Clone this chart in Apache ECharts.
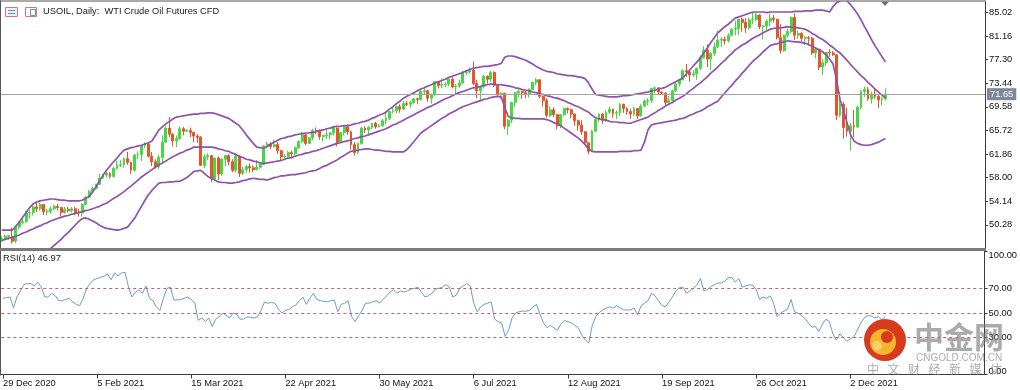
<!DOCTYPE html>
<html><head><meta charset="utf-8">
<script src="https://cdn.jsdelivr.net/npm/echarts@6/dist/echarts.min.js"></script>
<style>html,body{margin:0;padding:0;background:#fff}#c{width:1020px;height:390px}</style>
</head><body><div id="c"></div><script>
const titleText = 'USOIL, Daily:  WTI Crude Oil Futures CFD';
const rsiTitle = 'RSI(14) 46.97';
const dateLabels = ['29 Dec 2020','5 Feb 2021','15 Mar 2021','22 Apr 2021','30 May 2021','6 Jul 2021','12 Aug 2021','19 Sep 2021','26 Oct 2021','2 Dec 2021'];
const labelEvery = 27;
const priceTicks = [50.28,54.14,58.00,61.86,65.72,69.58,73.44,77.30,81.16,85.02];
const rsiTicks = [0,30,50,70,100];
const rsiLevels = [30,50,70];
const currentPrice = 71.65;
const futureSlots = 28;

// [open, close, low, high]
const ohlc = [
[47.6,48.0,47.5,48.4],[48.0,48.4,47.9,48.6],[48.4,48.5,47.8,48.6],[48.4,47.6,47.2,49.8],[47.6,49.9,47.3,50.2],
[49.9,50.6,49.5,50.9],[50.6,50.8,50.3,51.3],[50.8,52.2,50.6,52.6],[52.2,52.3,51.3,52.7],[52.3,53.2,51.8,53.4],
[53.2,52.9,52.4,53.9],[52.9,53.6,52.6,53.9],[53.6,52.4,51.9,53.6],[52.4,52.5,51.8,52.9],[52.5,52.9,52.1,53.3],
[52.9,53.3,52.7,53.6],[53.3,53.1,52.6,53.7],[53.1,52.3,51.6,53.2],[52.3,52.8,52.1,53.2],[52.8,52.6,52.3,53.2],
[52.6,52.9,52.3,53.2],[52.9,52.3,51.9,53.2],[52.3,52.2,51.6,52.9],[52.2,53.6,51.6,53.8],[53.6,54.8,53.5,55.0],
[54.8,55.7,54.6,56.0],[55.7,56.2,55.3,56.5],[56.2,56.9,56.1,57.0],[56.9,57.9,56.8,58.6],[57.9,58.4,57.8,58.6],
[58.4,58.7,58.0,58.9],[58.7,58.2,57.9,58.9],[58.2,59.5,58.0,59.8],[59.5,60.0,59.3,60.8],[60.0,60.1,59.7,60.9],
[60.1,61.1,59.6,61.3],[61.1,60.5,60.1,62.2],[60.5,59.2,58.6,60.6],[59.2,61.7,59.0,61.9],[61.7,61.8,61.0,62.3],
[61.8,63.2,60.7,63.3],[63.2,63.5,62.8,63.8],[63.5,61.5,61.3,63.6],[61.5,60.6,59.9,62.2],[60.6,59.8,59.5,61.0],
[59.8,61.3,59.4,61.7],[61.3,63.8,60.3,64.9],[63.8,66.1,63.7,66.4],[66.1,65.1,64.6,67.9],[65.1,64.0,63.1,65.3],
[64.0,64.4,63.0,64.9],[64.4,66.0,64.2,66.4],[66.0,65.6,64.9,66.3],[65.6,65.7,65.5,65.9],[65.7,65.4,64.6,66.2],
[65.4,64.8,63.8,65.5],[64.8,64.6,63.7,65.1],[64.6,60.0,59.9,64.8],[60.0,61.4,59.5,61.8],[61.4,61.6,60.9,62.0],
[61.6,57.8,57.3,61.7],[57.8,61.2,57.5,61.3],[61.2,58.6,57.6,61.5],[58.6,61.0,58.3,61.2],[61.0,61.6,59.9,61.7],
[61.6,60.6,60.0,61.8],[60.6,59.2,58.9,61.0],[59.2,61.5,58.9,61.8],[61.5,58.7,58.1,61.6],[58.7,59.3,58.4,59.8],
[59.3,59.8,58.8,60.1],[59.8,59.6,58.8,60.3],[59.6,59.3,58.9,60.0],[59.3,59.7,59.2,60.9],[59.7,60.2,59.4,60.6],
[60.2,63.2,60.0,63.3],[63.2,63.5,62.8,63.9],[63.5,63.1,62.7,63.8],[63.1,63.4,62.9,64.2],[63.4,62.4,61.9,63.8],
[62.4,61.4,60.7,62.5],[61.4,61.5,60.9,61.8],[61.5,62.1,61.2,62.4],[62.1,61.9,61.1,62.4],[61.9,62.9,61.6,63.1],
[62.9,63.9,62.7,64.1],[63.9,65.0,63.7,65.5],[65.0,63.6,63.3,65.2],[63.6,64.5,63.5,64.7],[64.5,65.7,64.1,66.0],
[65.7,65.6,65.1,66.2],[65.6,64.7,64.2,65.9],[64.7,64.9,63.9,65.0],[64.9,65.0,64.3,66.0],[65.0,65.3,64.3,65.5],
[65.3,66.1,64.9,66.4],[66.1,63.8,63.1,66.2],[63.8,65.4,63.7,65.5],[65.4,66.3,64.9,66.5],[66.3,65.5,65.0,66.7],
[65.5,63.4,62.6,65.7],[63.4,62.1,61.6,63.8],[62.1,63.6,61.8,63.7],[63.6,66.1,63.4,66.3],[66.1,65.8,65.3,66.4],
[65.8,66.2,65.0,66.4],[66.2,66.9,65.9,67.0],[66.9,66.3,66.0,67.1],[66.3,66.5,66.2,66.8],[66.5,67.3,66.3,67.6],
[67.3,67.7,66.7,68.9],[67.7,68.8,67.4,68.9],[68.8,68.9,68.5,69.4],[68.9,69.6,68.5,69.8],[69.6,69.2,68.6,70.0],
[69.2,70.1,69.1,70.6],[70.1,70.0,69.7,70.6],[70.0,70.3,69.4,70.6],[70.3,70.9,70.1,71.0],[70.9,70.8,70.0,71.1],
[70.8,72.1,70.6,72.3],[72.1,72.2,71.5,72.9],[72.2,71.0,70.4,72.4],[71.0,71.6,70.1,71.8],[71.6,73.7,71.3,73.8],
[73.7,73.1,72.6,73.8],[73.1,73.2,72.6,74.2],[73.2,73.3,72.8,73.6],[73.3,74.1,72.9,74.2],[74.1,72.9,72.6,74.4],
[72.9,73.0,71.8,73.3],[73.0,73.5,72.7,74.0],[73.5,75.2,73.3,75.5],[75.2,75.3,74.8,75.6],[75.3,75.6,75.0,76.0],
[75.6,73.4,73.1,77.0],[73.4,72.2,71.0,74.0],[72.2,72.9,70.8,73.0],[72.9,74.6,72.6,74.8],[74.6,74.1,73.4,74.7],
[74.1,75.2,73.6,75.5],[75.2,73.1,72.8,75.4],[73.1,71.7,71.2,73.3],[71.7,71.8,70.9,72.0],[71.8,66.4,65.9,71.9],
[66.4,67.4,65.0,67.6],[67.4,70.3,66.9,70.4],[70.3,71.9,69.6,72.0],[71.9,72.1,71.1,72.4],[72.1,71.9,70.9,72.2],
[71.9,71.7,71.0,72.3],[71.7,72.4,71.1,72.6],[72.4,73.6,72.3,73.7],[73.6,74.0,73.1,74.3],[74.0,71.3,71.0,74.1],
[71.3,70.6,69.6,71.4],[70.6,68.2,67.8,71.0],[68.2,69.1,67.9,69.7],[69.1,68.3,67.9,69.5],[68.3,66.5,65.9,68.4],
[66.5,68.3,66.1,68.4],[68.3,69.3,68.0,69.4],[69.3,69.1,68.5,69.5],[69.1,68.4,67.7,69.3],[68.4,67.3,66.5,68.5],
[67.3,66.6,65.7,67.5],[66.6,65.5,65.0,67.4],[65.5,63.7,63.4,65.6],[63.7,62.3,61.8,63.8],[62.3,65.6,62.2,65.8],
[65.6,67.5,65.4,67.7],[67.5,68.4,67.1,68.5],[68.4,67.4,66.8,68.6],[67.4,68.7,67.1,69.0],[68.7,69.2,68.4,69.6],
[69.2,68.5,67.8,69.3],[68.5,68.6,67.6,69.0],[68.6,70.0,68.1,70.2],[70.0,69.3,68.6,70.1],[69.3,68.8,68.3,69.5],
[68.8,68.4,67.6,69.2],[68.4,69.3,68.1,69.6],[69.3,68.1,67.6,69.4],[68.1,69.7,68.0,70.0],[69.7,70.5,69.5,70.8],
[70.5,70.6,69.8,71.0],[70.6,72.6,70.2,72.7],[72.6,72.7,71.8,72.9],[72.7,72.0,71.5,72.8],[72.0,71.8,71.6,72.1],
[71.8,70.3,69.8,72.0],[70.3,70.6,70.1,71.4],[70.6,72.2,70.5,72.4],[72.2,73.3,72.0,73.6],[73.3,74.0,72.9,74.1],
[74.0,75.5,73.9,75.7],[75.5,75.3,74.5,76.6],[75.3,74.8,73.7,75.4],[74.8,75.0,74.5,75.6],[75.0,75.9,74.0,76.0],
[75.9,77.6,75.6,78.0],[77.6,78.9,77.4,79.5],[78.9,77.4,76.1,79.8],[77.4,78.3,75.6,78.6],[78.3,79.4,77.9,80.1],
[79.4,80.5,79.2,82.1],[80.5,80.6,79.4,81.0],[80.6,80.4,79.8,81.1],[80.4,81.3,80.1,81.6],[81.3,82.3,81.2,82.5],
[82.3,82.4,81.3,83.7],[82.4,83.9,81.3,84.0],[83.9,83.4,81.9,84.2],[83.4,82.5,81.7,84.1],[82.5,83.8,82.2,84.2],
[83.8,83.9,83.1,85.0],[83.9,84.6,83.6,85.0],[84.6,82.7,82.3,84.7],[82.7,82.8,80.6,83.0],[82.8,83.6,82.1,84.0],
[83.6,84.1,82.8,84.9],[84.1,83.9,83.4,84.6],[83.9,80.9,80.6,84.0],[80.9,78.8,78.3,83.1],[78.8,81.3,78.6,81.4],
[81.3,81.9,80.9,82.4],[81.9,84.2,81.6,84.4],[84.2,81.3,80.5,84.9],[81.3,81.6,80.7,82.1],[81.6,80.8,80.2,81.8],
[80.8,80.9,79.7,81.2],[80.9,80.8,79.6,81.2],[80.8,78.4,78.1,81.0],[78.4,79.0,77.5,79.1],[79.0,76.1,75.6,79.1],
[76.1,76.8,74.8,77.4],[76.8,78.5,76.3,78.6],[78.5,78.4,77.8,79.0],[78.4,78.1,77.9,78.7],[78.1,68.2,67.4,78.2],
[68.2,70.0,67.9,72.0],[70.0,66.2,64.4,70.4],[66.2,65.6,64.7,69.4],[65.6,66.5,62.4,67.0],[66.5,66.3,64.6,69.1],
[66.3,69.5,66.1,69.8],[69.5,72.1,69.2,72.3],[72.1,72.4,71.2,72.9],[72.4,70.9,70.6,72.8],[70.9,71.7,70.1,72.1],
[71.7,71.3,70.9,72.5],[71.3,70.7,69.4,71.5],[70.7,70.9,69.8,71.2],[70.9,71.65,70.6,72.6]
];

const bbUpper = [
49.4,49.4,49.4,49.4,50.0,50.7,51.5,52.3,53.1,53.7,
54.0,54.2,54.3,54.4,54.5,54.5,54.4,54.3,54.3,54.2,
54.2,54.2,54.2,54.3,54.6,54.9,55.6,56.5,57.5,58.4,
59.2,59.9,60.6,61.2,61.9,62.5,62.7,62.9,63.0,63.2,
63.3,63.5,63.7,64.0,64.9,65.8,66.3,66.8,67.2,67.6,
67.9,68.0,68.1,68.2,68.3,68.4,68.4,68.5,68.5,68.6,
68.6,68.5,68.3,68.1,67.9,67.7,67.3,66.9,66.5,65.8,
65.0,64.3,63.6,63.0,62.9,62.8,63.1,63.5,63.8,64.1,
64.4,64.5,64.7,64.8,65.0,65.1,65.2,65.3,65.3,65.4,
65.5,65.7,65.8,66.0,66.1,66.3,66.4,66.4,66.5,66.5,
66.6,66.8,66.9,67.1,67.2,67.4,67.7,67.9,68.2,68.4,
68.7,69.2,69.6,70.1,70.5,71.0,71.3,71.6,71.9,72.2,
72.5,72.7,73.0,73.2,73.5,73.7,73.9,74.1,74.4,74.6,
74.8,75.0,75.2,75.5,75.7,75.9,76.0,76.1,76.2,76.2,
76.3,76.4,76.5,76.7,77.7,77.9,77.9,77.8,77.6,77.4,
77.2,76.9,76.6,76.2,75.9,75.6,75.4,75.3,75.2,75.0,
74.9,74.8,74.7,74.7,74.6,74.5,74.4,74.2,73.5,72.5,
71.6,71.5,71.4,71.3,71.2,71.2,71.2,71.3,71.4,71.4,
71.5,71.6,71.7,71.8,71.9,72.0,72.2,72.3,72.5,72.6,
72.8,73.1,73.4,73.7,74.0,74.3,75.0,75.6,76.3,76.9,
77.6,78.4,79.2,80.1,80.9,81.7,82.2,82.7,83.1,83.6,
84.1,84.3,84.5,84.7,84.9,85.1,85.1,85.1,85.1,85.0,
85.1,85.1,85.1,85.1,85.1,85.1,85.1,85.2,85.2,85.2,
85.3,85.3,85.3,85.4,85.4,85.4,85.3,85.1,86.0,86.6,
86.9,87.1,86.9,86.3,85.6,84.8,83.8,82.7,81.7,80.6,
79.6,78.7,77.8,76.9
];

const bbMiddle = [
47.7,47.9,48.1,48.2,48.4,48.6,48.9,49.1,49.4,49.6,
49.9,50.1,50.4,50.6,50.9,51.1,51.3,51.5,51.7,51.8,
52.0,52.1,52.3,52.4,52.6,52.7,52.9,53.1,53.3,53.6,
53.8,54.2,54.6,54.9,55.3,55.7,56.2,56.6,57.1,57.6,
58.1,58.5,58.9,59.3,59.7,60.1,60.4,60.7,61.1,61.4,
61.7,62.0,62.2,62.5,62.7,63.0,63.0,63.0,63.0,63.0,
63.0,62.9,62.7,62.6,62.4,62.3,62.0,61.8,61.5,61.3,
61.0,60.9,60.7,60.6,60.4,60.3,60.4,60.5,60.6,60.7,
60.8,61.0,61.2,61.3,61.5,61.7,61.8,62.0,62.1,62.3,
62.4,62.6,62.8,63.0,63.2,63.4,63.6,63.7,63.9,64.0,
64.2,64.4,64.5,64.7,64.8,65.0,65.2,65.4,65.6,65.8,
66.0,66.3,66.6,66.8,67.1,67.4,67.7,68.0,68.3,68.6,
68.9,69.2,69.5,69.7,70.0,70.3,70.6,70.9,71.1,71.4,
71.7,71.9,72.1,72.3,72.5,72.7,72.8,72.9,73.1,73.2,
73.3,73.3,73.2,73.2,73.1,73.0,72.9,72.7,72.6,72.4,
72.3,72.2,72.0,71.9,71.7,71.6,71.4,71.3,71.1,71.0,
70.8,70.6,70.3,70.1,69.8,69.6,69.3,69.0,68.7,68.2,
67.8,67.6,67.5,67.4,67.2,67.1,67.1,67.0,67.0,66.9,
66.9,67.1,67.3,67.5,67.7,67.9,68.3,68.6,69.0,69.3,
69.7,70.0,70.3,70.7,71.0,71.3,71.7,72.2,72.6,73.1,
73.5,74.0,74.5,75.1,75.6,76.1,76.7,77.2,77.8,78.3,
78.9,79.3,79.7,80.0,80.4,80.8,81.1,81.4,81.7,82.0,
82.3,82.4,82.5,82.5,82.6,82.7,82.6,82.6,82.5,82.4,
82.3,82.0,81.6,81.3,80.9,80.6,80.2,79.7,79.3,78.8,
78.4,77.8,77.2,76.5,75.9,75.3,74.7,74.2,73.6,73.1,
72.5,72.0,71.5,71.0
];

const bbLower = [
45.9,45.8,45.7,45.5,45.3,45.2,45.1,45.0,45.0,45.1,
45.3,45.5,45.8,46.1,46.4,46.9,47.4,47.9,48.5,49.0,
49.6,50.2,50.8,51.3,51.4,51.2,50.9,50.6,50.2,49.9,
49.7,49.6,49.5,49.4,49.5,49.7,49.9,50.6,51.3,52.3,
53.3,54.3,55.2,55.9,56.5,57.1,57.2,57.2,57.3,57.3,
57.4,57.4,57.7,58.0,58.5,59.0,59.1,59.2,58.7,58.2,
57.9,57.6,57.3,57.2,57.2,57.1,57.1,57.2,57.3,57.5,
57.6,57.8,57.9,57.8,57.7,57.7,57.6,57.8,58.0,58.1,
58.3,58.3,58.4,58.5,58.5,58.6,58.7,58.8,59.0,59.1,
59.2,59.5,59.8,60.0,60.3,60.6,60.9,61.3,61.6,62.0,
62.3,62.4,62.5,62.6,62.7,62.7,62.6,62.5,62.5,62.4,
62.3,62.3,62.2,62.2,62.2,62.2,62.6,63.2,63.9,64.6,
65.3,65.7,66.1,66.5,66.9,67.3,67.7,68.0,68.4,68.7,
69.0,69.3,69.6,69.8,70.0,70.2,70.4,70.6,70.8,70.9,
71.1,71.2,71.3,71.2,69.5,68.0,67.8,67.7,67.7,67.6,
67.6,67.6,67.6,67.6,67.6,67.6,67.5,67.3,67.0,66.8,
66.5,66.1,65.7,65.3,64.9,64.5,64.0,63.4,62.7,62.3,
62.2,62.2,62.2,62.2,62.2,62.2,62.2,62.3,62.3,62.3,
62.3,62.4,62.4,62.5,63.8,65.8,66.6,66.8,66.9,67.0,
67.1,67.2,67.3,67.4,67.6,67.7,67.9,68.2,68.4,68.7,
68.9,69.2,69.6,69.9,70.2,70.5,71.2,71.8,72.5,73.1,
73.8,74.4,75.1,75.7,76.4,77.0,77.5,78.0,78.6,79.1,
79.6,79.8,79.9,80.1,80.2,80.4,80.3,80.2,80.2,80.1,
80.0,79.8,79.5,79.2,78.9,78.6,78.1,77.4,76.6,74.0,
70.8,69.0,67.0,65.0,64.0,63.6,63.4,63.3,63.3,63.4,
63.6,63.8,64.1,64.4
];

const rsi = [
62,62.5,63,54,63,68,73,74,74,72,
75,71,63,63,66,64,60,60,61,62,
59,57,56,62,70,74,77,78,79,80,
81.7,77,82.5,80,82.5,83,71,63,67,69,
66,72,62,60,55,52,62,70,71,60.6,
60.6,61,62,63,61,58,44,46,43,46,
39,45,47,50,48,46,50,49,45,45,
47,46.5,46,47,52,59,58,58.5,58,53,
50,52,53,55,56.5,60,63,57,62,66,
61,60,59.5,59,60,60.6,51,57,58,60,
47,43,48,52,58,58,59,60,58,61,
64,67,68.7,66,68,67,68,69.5,70,71,
67,63,64,66,69.5,70,71,73,71,63,
64.6,70,72,74,72,58,51,55,57,58,
59,45,43,42,31,36,46,50,51,51.6,
51.5,52,55,57,49,42,38,40,38,36,
41,44,43,42,40,38,32,28,25.6,40,
47,50.5,52.4,54,55,54,56,54,52.4,52.5,
52.5,54,48.4,56,58,60,66,64,60,56,
55,59,63,68,70.5,71,66,68,70,72.8,
78,68,69,71.5,73,74.4,74.5,76,78.5,79,
75,78,71,72,72.8,72.8,69,61,63,62,
64,58,47,50,51.5,53,61,51,50,48,
45.5,42,38.5,39,35,41,45,43,33,28,
33,30,27,29,30.5,36,42,46,48,47.5,
46,47,44.5,46.97
];

const cats = ohlc.map((_, i) => 'b' + i).concat(Array.from({length: futureSlots}, (_, i) => 'f' + i));
const isLabelIdx = (idx) => idx % labelEvery === 0 && idx / labelEvery < dateLabels.length;
const FONT = 'Liberation Sans';
const axisCol = '#3c3c3c';
const bandCol = '#8f52ad';
const bandStyle = { color: bandCol, width: 1.7 };

const chart = echarts.init(document.getElementById('c'), null, { renderer: 'canvas' });

const wm = 'rgba(120,120,120,0.62)';
const wmChars = '中文财经新媒体'.split('');

chart.setOption({
  animation: false,
  backgroundColor: '#ffffff',
  textStyle: { fontFamily: FONT },
  grid: [
    { left: 0, right: 35, top: 2, height: 246 },
    { left: 0, right: 35, top: 251.5, height: 123 }
  ],
  xAxis: [
    { type: 'category', gridIndex: 0, data: cats, boundaryGap: true, show: false },
    { type: 'category', gridIndex: 1, data: cats, boundaryGap: true,
      axisLine: { show: true, lineStyle: { color: axisCol, width: 1 } },
      axisTick: { show: true, alignWithLabel: true, interval: (i) => isLabelIdx(i), length: 4, lineStyle: { color: axisCol } },
      axisLabel: { interval: (i) => isLabelIdx(i), formatter: (v, i) => dateLabels[i / labelEvery] || '',
        align: 'left', margin: 4, fontSize: 9.3, color: '#111', fontFamily: FONT },
      splitLine: { show: false } }
  ],
  yAxis: [
    { type: 'value', gridIndex: 0, position: 'right', min: 46.48, max: 86.74, scale: true,
      axisLine: { show: true, lineStyle: { color: axisCol } },
      axisTick: { show: true, length: 3, customValues: priceTicks, lineStyle: { color: axisCol } },
      axisLabel: { customValues: priceTicks, formatter: (v) => v.toFixed(2), margin: 4, fontSize: 9.3, color: '#111', fontFamily: FONT },
      splitLine: { show: false } },
    { type: 'value', gridIndex: 1, position: 'right', min: 0, max: 100,
      axisLine: { show: true, lineStyle: { color: axisCol } },
      axisTick: { show: true, length: 3, customValues: rsiTicks, lineStyle: { color: axisCol } },
      axisLabel: { customValues: rsiTicks, margin: 4, fontSize: 9.3, color: '#111', fontFamily: FONT,
        formatter: (v) => v === 100 ? '{t|' + v.toFixed(2) + '}' : (v === 0 ? '{b|' + v.toFixed(2) + '}' : v.toFixed(2)),
        rich: { t: { padding: [7, 0, 0, 0], fontSize: 9.3, color: '#111' }, b: { padding: [0, 0, 7, 0], fontSize: 9.3, color: '#111' } } },
      splitLine: { show: false } }
  ],
  series: [
    { type: 'candlestick', xAxisIndex: 0, yAxisIndex: 0, data: ohlc, barWidth: 2.4, z: 2,
      itemStyle: { color: '#45d845', color0: '#e65428', borderColor: '#45d845', borderColor0: '#e65428', borderWidth: 1 } },
    { type: 'line', xAxisIndex: 0, yAxisIndex: 0, data: bbUpper, symbol: 'none', lineStyle: bandStyle, z: 3, silent: true },
    { type: 'line', xAxisIndex: 0, yAxisIndex: 0, data: bbMiddle, symbol: 'none', lineStyle: bandStyle, z: 3, silent: true,
      markLine: { silent: true, symbol: ['none', 'none'], animation: false,
        lineStyle: { color: '#a3a3a3', width: 1, type: 'solid' },
        label: { show: true, position: 'end', distance: 2, formatter: currentPrice.toFixed(2), color: '#ffffff',
          backgroundColor: '#7a8898', padding: [2, 3, 1, 3], fontSize: 9.3, fontFamily: FONT },
        data: [{ yAxis: currentPrice }] } },
    { type: 'line', xAxisIndex: 0, yAxisIndex: 0, data: bbLower, symbol: 'none', lineStyle: bandStyle, z: 3, silent: true },
    { type: 'line', xAxisIndex: 1, yAxisIndex: 1, data: rsi, symbol: 'none', lineStyle: { color: '#6a9dcc', width: 1 }, z: 3, silent: true,
      markLine: { silent: true, symbol: ['none', 'none'], animation: false, label: { show: false },
        lineStyle: { color: '#b86472', width: 1, type: [3, 3] },
        data: rsiLevels.map((v) => ({ yAxis: v })) } }
  ],
  graphic: [
    { type: 'rect', shape: { x: 0, y: 0.5, width: 986, height: 1 }, style: { fill: '#555' }, z: 10 },
    { type: 'rect', shape: { x: 0, y: 0.5, width: 1, height: 375 }, style: { fill: '#555' }, z: 10 },
    { type: 'rect', shape: { x: 0, y: 248, width: 986, height: 3 }, style: { fill: '#7a7a7a' }, z: 10 },
    { type: 'polygon', shape: { points: [[881, 1.5], [889, 1.5], [885, 6]] }, style: { fill: '#6e6e6e' }, z: 10 },
    // title icons
    { type: 'rect', shape: { x: 5.5, y: 7.5, width: 12, height: 9 }, style: { fill: '#eef2fb', stroke: '#d9746e', lineWidth: 1 }, z: 10 },
    { type: 'rect', shape: { x: 8, y: 10, width: 7, height: 1 }, style: { fill: '#6a8fcf' }, z: 11 },
    { type: 'rect', shape: { x: 8, y: 13, width: 7, height: 1 }, style: { fill: '#6a8fcf' }, z: 11 },
    { type: 'rect', shape: { x: 25.5, y: 7.5, width: 11, height: 9 }, style: { fill: '#fff', stroke: '#d9746e', lineWidth: 1 }, z: 10 },
    { type: 'rect', shape: { x: 30.5, y: 9.5, width: 5, height: 6 }, style: { fill: '#fff', stroke: '#6a8fcf', lineWidth: 1 }, z: 11 },
    { type: 'text', x: 43, y: 11.5, style: { text: titleText, font: '9.3px "Liberation Sans"', fill: '#1a1a1a', textVerticalAlign: 'middle' }, z: 10 },
    { type: 'text', x: 3, y: 258.5, style: { text: rsiTitle, font: '9.3px "Liberation Sans"', fill: '#1a1a1a', textVerticalAlign: 'middle' }, z: 10 },
    // watermark
    { type: 'circle', shape: { cx: 885, cy: 340, r: 21 }, style: { fill: '#d83a1d' }, z: 20 },
    { type: 'circle', shape: { cx: 883, cy: 342, r: 13 }, style: { fill: '#f5b52c' }, z: 21 },
    { type: 'circle', shape: { cx: 887, cy: 337, r: 6 }, style: { fill: '#d83a1d' }, z: 22 },
    { type: 'circle', shape: { cx: 877, cy: 346, r: 5 }, style: { fill: '#f9d06a' }, z: 22 },
    { type: 'text', x: 914, y: 337, style: { text: '中金网', font: 'bold 30px "Noto Sans CJK SC"', fill: wm, textVerticalAlign: 'middle' }, z: 20 },
    { type: 'text', x: 916, y: 358.5, style: { text: 'CNGOLD.COM.CN', font: '10px "Liberation Sans"', fill: wm, textVerticalAlign: 'middle' }, z: 20 }
  ].concat(wmChars.map((ch, k) => ({ type: 'text', x: 867 + k * 20.5, y: 369.5,
      style: { text: ch, font: '12px "Noto Sans CJK SC"', fill: wm, textVerticalAlign: 'middle' }, z: 20 })))
});
</script></body></html>
